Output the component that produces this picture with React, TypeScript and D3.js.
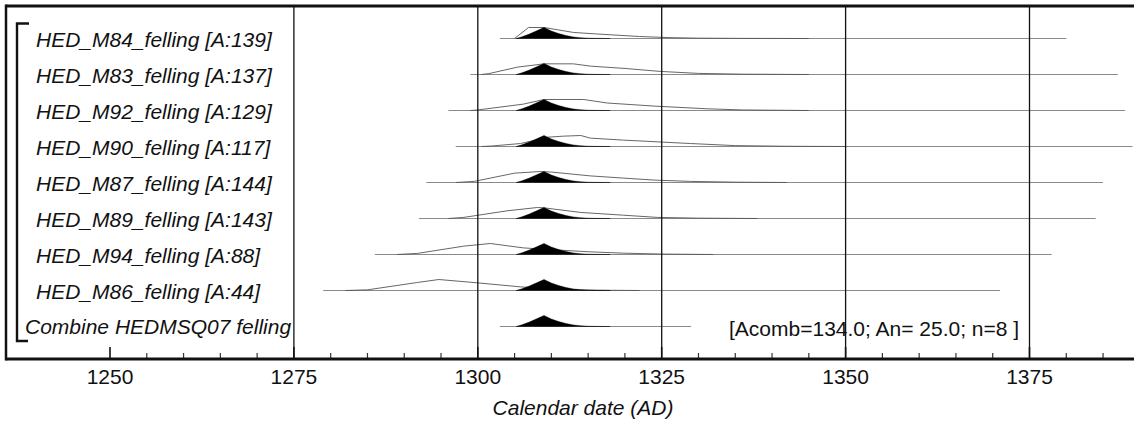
import React from "react";
import * as d3 from "d3";

// rows, top to bottom
const labels = [
  "HED_M84_felling [A:139]",
  "HED_M83_felling [A:137]",
  "HED_M92_felling [A:129]",
  "HED_M90_felling [A:117]",
  "HED_M87_felling [A:144]",
  "HED_M89_felling [A:143]",
  "HED_M94_felling [A:88]",
  "HED_M86_felling [A:44]",
  "Combine HEDMSQ07 felling",
];
const rangeStart = [1303, 1299, 1296, 1297, 1293, 1292, 1286, 1279, 1303];
const rangeEnd = [1380, 1387, 1388, 1389, 1385, 1384, 1378, 1371, 1329];

// unmodelled (outline) distributions: [year, relative probability]
const priorM84 = [[1305, 0], [1306.9, 1], [1309, 1], [1310.8, 0.8], [1313, 0.55], [1316, 0.42], [1322, 0.18], [1326, 0.08], [1330, 0.03], [1336, 0.01], [1345, 0]];
const priorM83 = [[1300.5, 0], [1301.5, 0.08], [1305.4, 0.67], [1309, 0.97], [1313, 0.97], [1315.3, 0.76], [1320, 0.55], [1324.8, 0.28], [1330, 0.1], [1336, 0.03], [1345, 0]];
const priorM92 = [[1299, 0], [1300, 0.05], [1306.2, 0.58], [1309, 1], [1314.4, 1], [1317.6, 0.68], [1324, 0.4], [1331, 0.16], [1336, 0.05], [1345, 0]];
const priorM90 = [[1300.5, 0], [1302, 0.05], [1305.8, 0.27], [1308, 0.6], [1309, 0.82], [1311.6, 0.94], [1314, 1], [1315.3, 0.76], [1319.8, 0.58], [1328.9, 0.27], [1335, 0.08], [1342, 0.02], [1350, 0]];
const priorM87 = [[1297, 0], [1299.5, 0.1], [1305, 0.85], [1308.5, 1], [1310, 0.95], [1315.3, 0.6], [1319.8, 0.4], [1324, 0.22], [1328.9, 0.1], [1335, 0.03], [1342, 0]];
const priorM89 = [[1296, 0], [1298.1, 0.1], [1304, 0.7], [1308.1, 1], [1309, 0.97], [1314, 0.55], [1319.8, 0.3], [1324.4, 0.1], [1330, 0.03], [1338, 0]];
const priorM94 = [[1289, 0], [1291.8, 0.1], [1298.1, 0.76], [1301.7, 1], [1306.2, 0.6], [1310.8, 0.41], [1315, 0.25], [1319.8, 0.12], [1325, 0.04], [1332, 0]];
const priorM86 = [[1282, 0], [1285, 0.06], [1291.8, 0.73], [1294.7, 1], [1299.9, 0.7], [1305.8, 0.33], [1309, 0.2], [1312, 0.1], [1316, 0.03], [1322, 0]];
const priors = [priorM84, priorM83, priorM92, priorM90, priorM87, priorM89, priorM94, priorM86, null];

// modelled (combined) felling date, same on every row
const posterior = [[1305.2, 0], [1306, 0.15], [1307, 0.4], [1308, 0.7], [1309, 1], [1310, 0.68], [1311, 0.45], [1312, 0.27], [1313, 0.14], [1314, 0.07], [1315, 0.03], [1316, 0.012], [1318, 0]];

const majorTicks = [1250, 1275, 1300, 1325, 1350, 1375];
const gridYears = [1275, 1300, 1325, 1350, 1375];

const font = "'Liberation Sans', Arial, sans-serif";

export default function App() {
  const width = 1134;
  const height = 428;
  const frameLeft = 6;
  const frameTop = 6;
  const axisY = 359;

  const x = d3.scaleLinear().domain([1250, 1375]).range([110, 1029.5]);
  const y = d3.scalePoint().domain(labels).range([38.5, 326.5]);
  const h = d3.scaleLinear().domain([0, 1]).range([0, 11]);

  const priorLine = d3
    .line<number[]>()
    .x((d) => x(d[0]))
    .y((d) => -h(d[1]));
  const postArea = d3
    .area<number[]>()
    .x((d) => x(d[0]))
    .y0(0)
    .y1((d) => -h(d[1]));

  const minorTicks = d3.range(1250, 1386, 5).filter((t) => t % 25 !== 0);

  return (
    <div style={{ position: "absolute", left: 0, top: 0 }}>
      <svg width={width} height={height} style={{ display: "block", background: "#fff" }} fontFamily={font}>
        {/* summary text */}
        <text x={729} y={335.5} fontSize={21} fill="#111">
          [Acomb=134.0; An= 25.0; n=8 ]
        </text>

        {/* rows */}
        {labels.map((lab, i) => {
          const prior = priors[i];
          return (
            <g key={lab} transform={`translate(0,${y(lab)})`}>
              <line x1={x(rangeStart[i])} x2={x(rangeEnd[i])} y1={0} y2={0} stroke="#8a8a8a" strokeWidth={1.1} />
              {prior && <path d={priorLine(prior) || ""} fill="none" stroke="#555" strokeWidth={0.9} />}
              <path d={postArea(posterior) || ""} fill="#000" stroke="#000" strokeWidth={0.4} />
              <text
                x={i === labels.length - 1 ? 25 : 36}
                y={i === labels.length - 1 ? 7 : 8}
                fontSize={21}
                fontStyle="italic"
                fill="#111"
              >
                {lab}
              </text>
            </g>
          );
        })}

        {/* bracket */}
        <path d="M29,23.5 H17 V341 H28" fill="none" stroke="#111" strokeWidth={2.4} />

        {/* grid lines */}
        {gridYears.map((t) => (
          <line key={t} x1={x(t)} x2={x(t)} y1={frameTop} y2={axisY} stroke="#111" strokeWidth={1.3} />
        ))}

        {/* ticks */}
        {minorTicks.map((t) => (
          <line key={t} x1={x(t)} x2={x(t)} y1={axisY - 6} y2={axisY} stroke="#333" strokeWidth={1.2} />
        ))}
        {majorTicks.map((t) => (
          <g key={t}>
            <line x1={x(t)} x2={x(t)} y1={axisY - 12} y2={axisY} stroke="#111" strokeWidth={1.6} />
            <text x={x(t)} y={384} textAnchor="middle" fontSize={21} fill="#111">
              {t}
            </text>
          </g>
        ))}

        {/* frame */}
        <line x1={frameLeft} x2={width} y1={frameTop} y2={frameTop} stroke="#111" strokeWidth={3} />
        <line x1={frameLeft} x2={frameLeft} y1={frameTop - 1.5} y2={axisY + 1.5} stroke="#111" strokeWidth={2.5} />
        <line x1={frameLeft} x2={width} y1={axisY} y2={axisY} stroke="#111" strokeWidth={3} />

        <text x={583} y={415} textAnchor="middle" fontSize={21} fontStyle="italic" fill="#111">
          Calendar date (AD)
        </text>
      </svg>
    </div>
  );
}
